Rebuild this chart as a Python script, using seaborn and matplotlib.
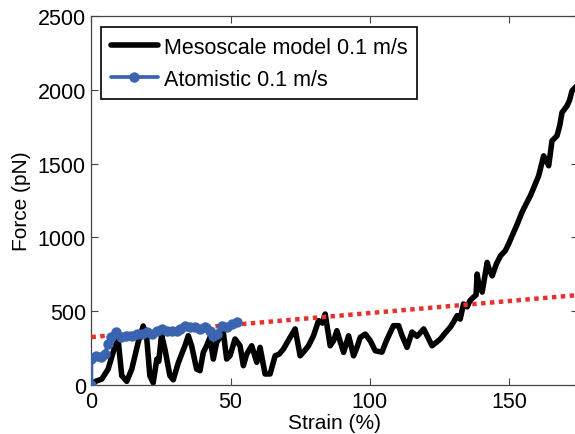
import matplotlib.pyplot as plt
import seaborn as sns

# mesoscale model 0.1 m/s
mesoscale_strain = [0, 1.5, 3.7, 6, 8.5, 9.6, 10.9, 12.7, 14.5, 16.8, 18.6, 19.8, 21, 22.2,
                    23.5, 24.2, 25.2, 26.4, 28.2, 29.4, 31.2, 33.6, 34.8, 36, 37.8, 39, 40.2,
                    41.4, 42.6, 43.8, 45, 46.2, 47.4, 48.6, 49.8, 51.6, 53.4, 54.6, 55.8, 57.6,
                    59.4, 60.6, 62.4, 64.2, 66, 67.5, 69, 71.4, 73.2, 75, 76.5, 78, 79.8, 81.6,
                    83, 84, 85.8, 87, 88.2, 90.6, 92.4, 94.2, 95.5, 96.6, 98.4, 100.2, 102,
                    104.4, 106, 108.5, 110.4, 111.5, 113.4, 115.2, 117, 119.4, 122.4, 124,
                    125.4, 127, 129, 130.2, 131.4, 132.5, 133.7, 135, 136, 137.3, 138.2, 138.6,
                    139.1, 140.4, 142.2, 143, 144, 145.5, 147, 148.7, 150, 151.7, 153, 154.7,
                    156, 157.7, 159, 160.7, 162.5, 163.5, 164.3, 165.5, 167.3, 168.3, 169.1,
                    170.9, 171.8, 172.7, 174, 175]
mesoscale_force = [0, 25, 40, 108, 266, 305, 63, 25, 108, 289, 400, 334, 63, 15,
                   176, 160, 340, 244, 63, 35, 150, 266, 334, 266, 108, 97, 221,
                   266, 323, 176, 289, 323, 357, 176, 199, 312, 266, 131, 210, 266,
                   154, 255, 75, 75, 198, 210, 244, 323, 380, 198, 230, 266, 334, 436,
                   420, 481, 266, 300, 368, 221, 334, 198, 260, 323, 345, 300, 232,
                   223, 300, 402, 402, 340, 255, 359, 330, 380, 266, 290,
                   312, 350, 393, 430, 470, 447, 549, 530, 571, 596, 610, 752,
                   690, 630, 831, 780, 740, 820, 876, 910, 960, 1034, 1090, 1170,
                   1220, 1282, 1340, 1418, 1553, 1520, 1486, 1655, 1689, 1760, 1847,
                   1892, 1930, 1994, 2019, 2050]

# atomistic 0.1 m/s
atomistic_strain = [0, 0, 1.8, 3.6, 4.8, 6, 7.2, 9, 10.8, 12.6, 14.4, 16.2, 18, 19.8, 21.6,
                    23.4, 25.2, 27, 28.8, 30.6, 31.8, 33.6, 35.4, 37.2, 39, 40.8, 42.6, 43.8,
                    45, 46.8, 48.6, 50.4, 52.2]
atomistic_force = [0, 176, 200, 190, 213, 278, 323, 357, 323, 334, 334, 346, 346, 357, 346,
                   368, 380, 368, 368, 368, 380, 402, 391, 391, 380, 391, 368, 334,
                   346, 402, 391, 413, 425]

# linear fit (red dotted)
fit_strain = [0, 175]
fit_force = [325, 610]

x_ticks = [0, 50, 100, 150]
y_ticks = [0, 500, 1000, 1500, 2000, 2500]


def plot():
    sns.set_style("ticks")
    plt.rcParams['font.family'] = ['Liberation Sans', 'DejaVu Sans']
    plt.rcParams['text.color'] = 'black'
    plt.rcParams['axes.labelcolor'] = 'black'

    fig = plt.figure(figsize=(5.75, 4.35), dpi=100)
    ax = fig.add_axes([0.159, 0.1126, 0.847, 0.848])

    sns.lineplot(x=mesoscale_strain, y=mesoscale_force, ax=ax, sort=False, estimator=None,
                 color="black", linewidth=4, label="Mesoscale model 0.1 m/s", zorder=2)
    sns.lineplot(x=fit_strain, y=fit_force, ax=ax, sort=False, estimator=None,
                 color="#e8302c", linewidth=3.2, dashes=False, zorder=3)
    ax.lines[-1].set_dashes((1, 1))
    ax.lines[-1].set_dash_capstyle("butt")
    sns.lineplot(x=atomistic_strain, y=atomistic_force, ax=ax, sort=False, estimator=None,
                 color="#3b64b0", linewidth=2.7, marker="o", markersize=7.5,
                 markeredgewidth=0, label="Atomistic 0.1 m/s", zorder=4)

    ax.set_xlim(0, 175)
    ax.set_ylim(0, 2500)
    ax.set_xticks(x_ticks)
    ax.set_yticks(y_ticks)
    ax.set_xlabel("Strain (%)", fontsize=15, labelpad=1)
    ax.set_ylabel("Force (pN)", fontsize=15, labelpad=5)
    ax.tick_params(direction="in", length=5, width=0.8, labelsize=15.5, pad=4,
                   top=True, right=True, color="#444444", labelcolor="black")
    for s in ax.spines.values():
        s.set_visible(True)
        s.set_color("#444444")
        s.set_linewidth(0.9)

    leg = ax.legend(loc="upper left", bbox_to_anchor=(0.0195, 0.97), borderaxespad=0,
                    fontsize=15.5, handlelength=2.2, handletextpad=0.28, labelspacing=0.5,
                    borderpad=0.45, fancybox=False, framealpha=1, edgecolor="black")
    leg.get_frame().set_linewidth(1.2)

    fig.savefig("out.png", dpi=100)


if __name__ == '__main__':
    plot()
